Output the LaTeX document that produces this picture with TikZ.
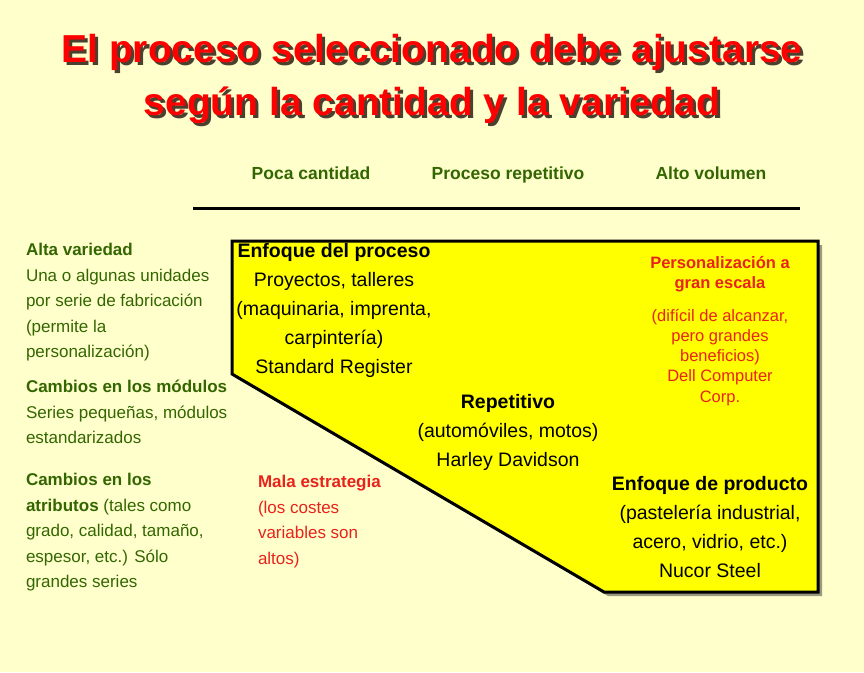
\documentclass[tikz,border=0pt]{standalone}
\usepackage{fontspec}
\setmainfont{Liberation Sans}
\definecolor{bgc}{HTML}{FFFFCC}
\definecolor{boxy}{HTML}{FFFF00}
\definecolor{grn}{HTML}{336600}
\definecolor{txtred}{HTML}{E8231C}
\definecolor{ttlred}{HTML}{FF0000}
\definecolor{shd}{HTML}{4A4030}
\definecolor{boxshd}{HTML}{9A9A80}
\begin{document}
\begin{tikzpicture}[x=1pt,y=-1pt,
  txt/.style={inner sep=0pt, outer sep=0pt},
  ttl/.style={txt, anchor=base, align=center, font=\fontsize{39}{53}\selectfont\bfseries},
  hdr/.style={txt, anchor=base, text=grn, font=\fontsize{17.5}{20}\selectfont\bfseries},
  side/.style={txt, anchor=base west, align=left, text=grn, font=\fontsize{17}{25.5}\selectfont},
  inbox/.style={txt, anchor=base, align=center, font=\fontsize{19.5}{29}\selectfont},
  redc/.style={txt, anchor=base, align=center, text=txtred, font=\fontsize{16.5}{20.2}\selectfont},
  bad/.style={txt, anchor=base west, align=left, text=txtred, font=\fontsize{17}{25.7}\selectfont},
]
\fill[bgc] (0,0) rectangle (864,672);
\useasboundingbox (0,0) rectangle (864,672);

% title (base anchor = baseline of last line)
\node[ttl, text=shd] (titleshadow) at (435,118) {El proceso seleccionado debe ajustarse\\según la cantidad y la variedad};
\node[ttl, text=ttlred] (title) at (432,115) {El proceso seleccionado debe ajustarse\\según la cantidad y la variedad};

% headers
\node[hdr] (h1) at (311,179.5) {Poca cantidad};
\node[hdr] (h2) at (508,179.5) {Proceso repetitivo};
\node[hdr] (h3) at (711,179.5) {Alto volumen};
\coordinate (ra) at (193,208);
\coordinate (rb) at (800,208);
\draw[line width=3pt] (ra) -- (rb);

% box
\coordinate (tl) at (232,241);
\coordinate (tr) at (818,241);
\coordinate (br) at (818,592);
\coordinate (bl) at (604,592);
\coordinate (lc) at (232,374);
\fill[boxshd] ([shift={(4,4)}]tl) -- ([shift={(4,4)}]tr) -- ([shift={(4,4)}]br) -- ([shift={(4,4)}]bl) -- ([shift={(4,4)}]lc) -- cycle;
\filldraw[fill=boxy, draw=black, line width=3pt, line join=miter] (tl) -- (tr) -- (br) -- (bl) -- (lc) -- cycle;

% left side
\node[side] (alta) at (26,357.5) {\textbf{Alta variedad}\\Una o algunas unidades\\por serie de fabricación\\(permite la\\personalización)};
\node[side] (modulos) at (26,443.5) {\textbf{Cambios en los módulos}\\Series pequeñas, módulos\\estandarizados};
\node[side] (atrib) at (26,587.5) {\textbf{Cambios en los}\\\textbf{atributos} (tales como\\grado, calidad, tamaño,\\espesor, etc.) Sólo\\grandes series};

% inside box
\node[inbox] (proceso) at (334,373) {\textbf{Enfoque del proceso}\\Proyectos, talleres\\(maquinaria, imprenta,\\carpintería)\\Standard Register};
\node[inbox] (repet) at (508,466) {\textbf{Repetitivo}\\(automóviles, motos)\\Harley Davidson};
\node[inbox] (producto) at (710,577) {\textbf{Enfoque de producto}\\(pastelería industrial,\\acero, vidrio, etc.)\\Nucor Steel};
\node[redc, font=\fontsize{16.5}{20}\selectfont\bfseries] (masscust) at (720,288.3) {Personalización a\\gran escala};
\node[redc] (dell) at (720,402.1) {(difícil de alcanzar,\\pero grandes\\beneficios)\\Dell Computer\\Corp.};

% bad strategy
\node[bad] (mala) at (258,564.6) {\textbf{Mala estrategia}\\(los costes\\variables son\\altos)};
\end{tikzpicture}
\end{document}
